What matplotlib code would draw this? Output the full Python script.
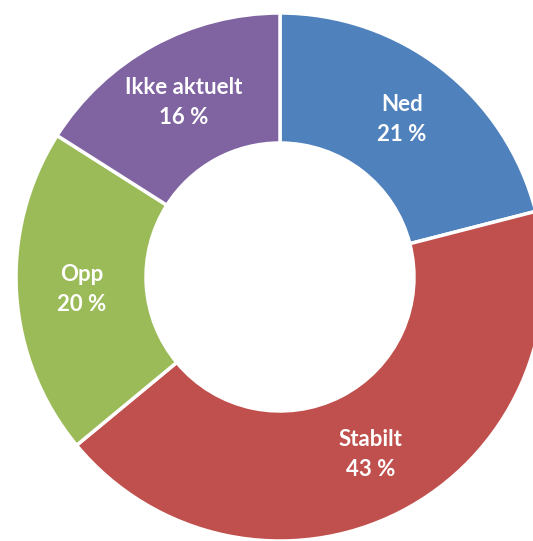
import matplotlib.pyplot as plt

# data
labels = ["Ned", "Stabilt", "Opp", "Ikke aktuelt"]
values = [21, 43, 20, 16]
colors = ["#4F81BD", "#C0504D", "#9BBB59", "#8064A2"]

W, H = 533, 541
fig = plt.figure(figsize=(W / 100, H / 100), dpi=100)
ax = fig.add_axes([0, 0, 1, 1])

cx, cy = 280, H - 277
R, ring = 264, 130

names = iter(labels)
wedges, texts, autotexts = ax.pie(
    values, colors=colors, startangle=90, counterclock=False,
    center=(cx, cy), radius=R, frame=True,
    wedgeprops=dict(width=ring, edgecolor="white", linewidth=2.5),
    autopct=lambda p: f"{next(names)}\n{p:.0f} %",
    pctdistance=(R - ring / 2) / R,
)
for t in autotexts:
    t.set_color("white")
    t.set_fontweight("bold")
    t.set_fontsize(16)
    t.set_family(["Lato", "DejaVu Sans"])
    t.set_linespacing(1.55)

ax.set_xlim(0, W)
ax.set_ylim(0, H)
ax.set_aspect("equal")
ax.axis("off")

fig.savefig("out.png", dpi=100)
